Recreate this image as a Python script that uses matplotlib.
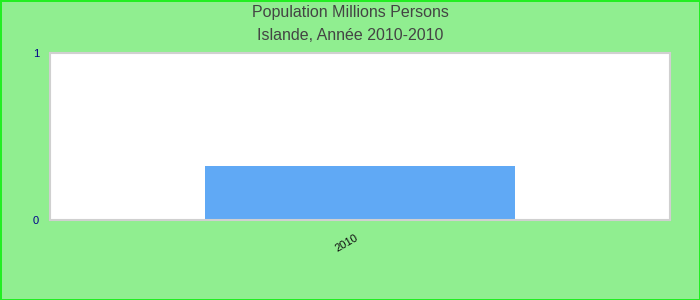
import matplotlib.pyplot as plt

plt.rcParams['font.family'] = ['Liberation Sans', 'DejaVu Sans']

years = ['2010']
population = [0.323]

fig = plt.figure(figsize=(7, 3), dpi=100, facecolor='#90EE90', edgecolor='#22EE22', linewidth=2)
ax = fig.add_axes([50 / 700, 80 / 300, 620 / 700, 167 / 300])
ax.set_facecolor('white')

ax.bar(range(len(years)), population, width=1.0, color='#60A9F5')
ax.set_xlim(-1, len(years))
ax.set_ylim(0, 1)

ax.set_yticks([0, 1])
ax.set_yticklabels(['0', '1'], color='#00008B', fontsize=8)
ax.set_xticks(range(len(years)))
ax.set_xticklabels(years, rotation=30, ha='right', fontsize=8, color='#111111')
ax.tick_params(length=0, pad=8)
ax.tick_params(axis='x', pad=9)

for s in ax.spines.values():
    s.set_color('#D0D0D0')
    s.set_linewidth(1.5)

fig.text(0.5, 1 - 13 / 300, 'Population Millions Persons', ha='center', va='center', fontsize=11.5, color='#444444')
fig.text(0.5, 1 - 36 / 300, 'Islande, Année 2010-2010', ha='center', va='center', fontsize=11.5, color='#444444')

fig.savefig('out.png', dpi=100, facecolor=fig.get_facecolor(), edgecolor=fig.get_edgecolor())
